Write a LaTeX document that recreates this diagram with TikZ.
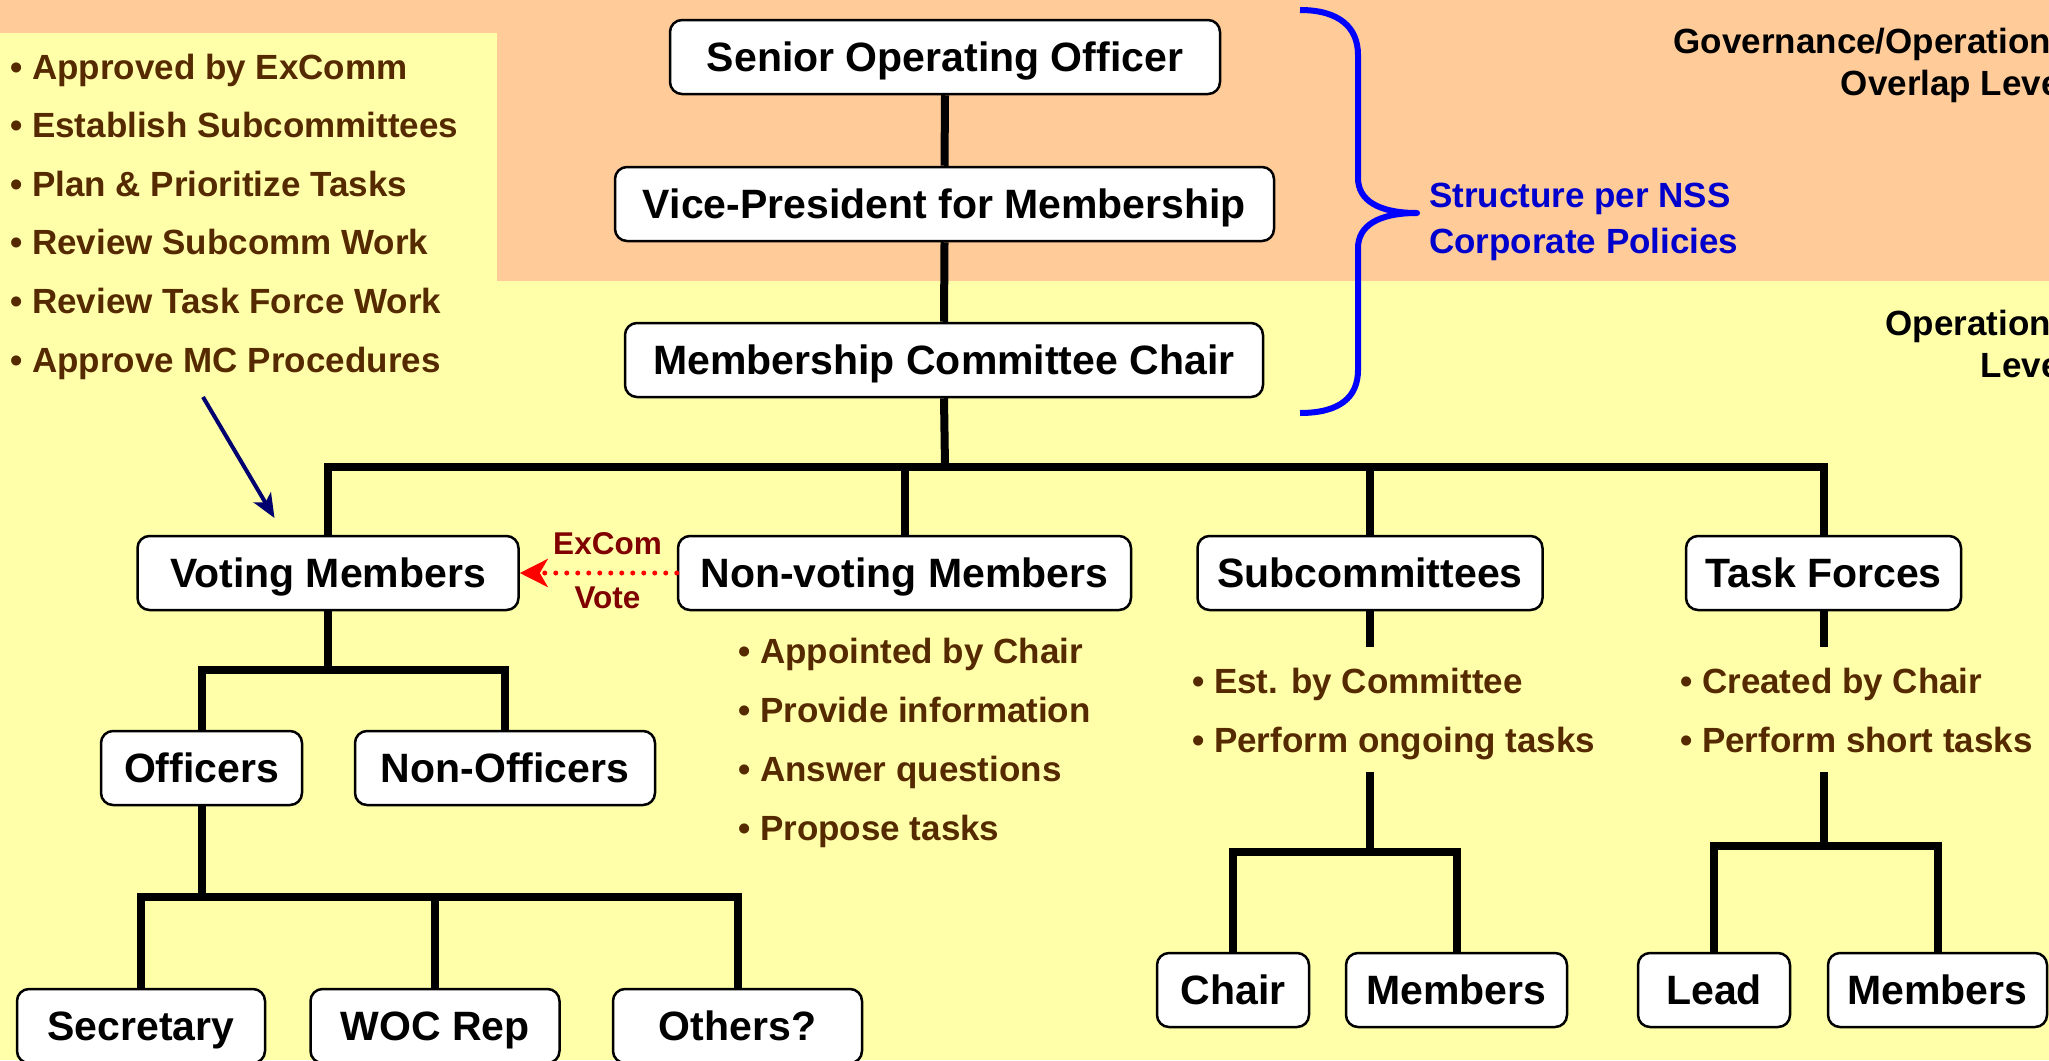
\documentclass[tikz,border=0pt]{standalone}
\usepackage{fontspec}
\setmainfont{Liberation Sans}
\usetikzlibrary{arrows.meta}
\definecolor{peach}{RGB}{255,204,153}
\definecolor{pale}{RGB}{255,255,170}
\definecolor{notebrown}{RGB}{85,42,0}
\definecolor{navyarrow}{RGB}{0,0,110}
\definecolor{bracebl}{RGB}{0,0,255}
\definecolor{textbl}{RGB}{0,0,204}
\definecolor{votered}{RGB}{128,0,0}
\begin{document}
\begin{tikzpicture}[x=1pt,y=-1pt,
  box/.style={draw=black, line width=2.5pt, fill=white, rounded corners=12pt,
    minimum height=74pt, inner sep=0pt, text height=29.4pt, text depth=0pt,
    font=\fontsize{41}{49}\selectfont\bfseries},
  conn/.style={line width=8pt, draw=black, line join=miter},
  note/.style={inner sep=0pt, text=notebrown, font=\fontsize{35}{42}\selectfont\bfseries},
  levellbl/.style={inner sep=0pt, text=black, font=\fontsize{35}{42}\selectfont\bfseries},
  structlbl/.style={inner sep=0pt, text=textbl, font=\fontsize{35}{42}\selectfont\bfseries},
  votelbl/.style={inner sep=0pt, text=votered, font=\fontsize{31.5}{38}\selectfont\bfseries}]
\useasboundingbox (0,0) rectangle (2049,1060);
\clip (0,0) rectangle (2049,1060);
% backgrounds
\fill[pale] (0,0) rectangle (2049,1060);
\fill[peach] (0,0) rectangle (2049,281);
\fill[pale] (0,33) rectangle (497,281);

% top chain
\node[box, minimum width=550pt] (senior) at (945,57) {Senior Operating Officer};
\node[box, minimum width=659pt] (vp) at (944.5,204) {Vice-President for Membership};
\node[box, minimum width=638pt] (mcc) at (944,360) {Membership Committee Chair};

% second row
\node[box, minimum width=381pt] (voting) at (328,573) {Voting Members};
\node[box, minimum width=453pt] (nonvoting) at (904.5,573) {Non-voting Members};
\node[box, minimum width=345pt] (subcomm) at (1370,573) {Subcommittees};
\node[box, minimum width=275pt] (taskf) at (1823.5,573) {Task Forces};

% third row
\node[box, minimum width=201pt] (officers) at (201.5,768) {Officers};
\node[box, minimum width=300pt] (nonofficers) at (505,768) {Non-Officers};

% bottom row
\node[box, minimum width=248pt] (secretary) at (141,1026) {Secretary};
\node[box, minimum width=249pt] (woc) at (435,1026) {WOC Rep};
\node[box, minimum width=249pt] (others) at (737.5,1026) {Others?};
\node[box, minimum width=152pt] (schair) at (1233,990) {Chair};
\node[box, minimum width=221pt] (smembers) at (1456.5,990) {Members};
\node[box, minimum width=152pt] (tlead) at (1714,990) {Lead};
\node[box, minimum width=219pt] (tmembers) at (1937.5,990) {Members};

% connector coordinates
\coordinate (bus) at (945,467);
\coordinate (vbus) at (328,670);
\coordinate (obus) at (201.5,897);
\coordinate (scstub) at (1370,647);
\coordinate (sctop) at (1370,772);
\coordinate (scbus) at (1370,852);
\coordinate (tfstub) at (1823.5,647);
\coordinate (tftop) at (1823.5,772);
\coordinate (tfbus) at (1823.5,846);

% connectors
\draw[conn] (senior.south) -- (vp.north);
\draw[conn] (vp.south) -- (mcc.north);
\draw[conn] (mcc.south) -- (bus);
\draw[conn] (voting.north) -- (voting.north |- bus) -- (taskf.north |- bus) -- (taskf.north);
\draw[conn] (nonvoting.north) -- (nonvoting.north |- bus);
\draw[conn] (subcomm.north) -- (subcomm.north |- bus);

\draw[conn] (voting.south) -- (vbus);
\draw[conn] (officers.north) -- (officers.north |- vbus) -- (nonofficers.north |- vbus) -- (nonofficers.north);

\draw[conn] (officers.south) -- (obus);
\draw[conn] (secretary.north) -- (secretary.north |- obus) -- (others.north |- obus) -- (others.north);
\draw[conn] (woc.north) -- (woc.north |- obus);

\draw[conn] (subcomm.south) -- (scstub);
\draw[conn] (sctop) -- (scbus);
\draw[conn] (schair.north) -- (schair.north |- scbus) -- (smembers.north |- scbus) -- (smembers.north);

\draw[conn] (taskf.south) -- (tfstub);
\draw[conn] (tftop) -- (tfbus);
\draw[conn] (tlead.north) -- (tlead.north |- tfbus) -- (tmembers.north |- tfbus) -- (tmembers.north);

% ExCom vote arrow
\draw[red, line width=5pt, line cap=round, dash pattern=on 0pt off 11pt,
  -{Stealth[length=28pt,width=28pt,inset=8pt]}] (nonvoting.west) -- (voting.east);
\node[votelbl, anchor=base] (excom) at (607.5,554) {ExCom};
\node[votelbl, anchor=base] (vote) at (607.5,608) {Vote};

% left list
\node[note, anchor=base west] (l1) at (10,79) {• Approved by ExComm};
\node[note, anchor=base west] (l2) at (10,137.6) {• Establish Subcommittees};
\node[note, anchor=base west] (l3) at (10,196.2) {• Plan \& Prioritize Tasks};
\node[note, anchor=base west] (l4) at (10,254.8) {• Review Subcomm Work};
\node[note, anchor=base west] (l5) at (10,313.4) {• Review Task Force Work};
\node[note, anchor=base west] (l6) at (10,372) {• Approve MC Procedures};

% approve arrow
\coordinate (apS) at (203,397);
\coordinate (apE) at (274.5,518);
\draw[navyarrow, line width=4pt, -{Stealth[length=24pt,width=20pt,inset=6pt]}] (apS) -- (apE);

% non-voting notes
\node[note, anchor=base west] (n1) at (738,663) {• Appointed by Chair};
\node[note, anchor=base west] (n2) at (738,722) {• Provide information};
\node[note, anchor=base west] (n3) at (738,781) {• Answer questions};
\node[note, anchor=base west] (n4) at (738,840) {• Propose tasks};

% subcommittee notes
\node[note, anchor=base west] (s1) at (1192,693) {• Est. by Committee};
\node[note, anchor=base west] (s2) at (1192,752) {• Perform ongoing tasks};

% task force notes
\node[note, anchor=base west] (t1) at (1680,693) {• Created by Chair};
\node[note, anchor=base west] (t2) at (1680,752) {• Perform short tasks};

% brace
\draw[bracebl, line width=6pt, line join=round]
  (1300,10) .. controls (1340,10) and (1358,28) .. (1358,55)
  -- (1358,178) .. controls (1358,200) and (1378,213) .. (1417,213)
  .. controls (1378,213) and (1358,226) .. (1358,248)
  -- (1358,370) .. controls (1358,397) and (1340,413) .. (1300,413);
\node[structlbl, anchor=base west] (st1) at (1429,207) {Structure per NSS};
\node[structlbl, anchor=base west] (st2) at (1429,253) {Corporate Policies};

% level labels (cut at right edge)
\node[levellbl, anchor=base east] (g1) at (2070.6,53) {Governance/Operations};
\node[levellbl, anchor=base east] (g2) at (2070.6,95) {Overlap Level};
\node[levellbl, anchor=base east] (o1) at (2070.6,335) {Operations};
\node[levellbl, anchor=base east] (o2) at (2070.6,377) {Level};
\end{tikzpicture}
\end{document}
